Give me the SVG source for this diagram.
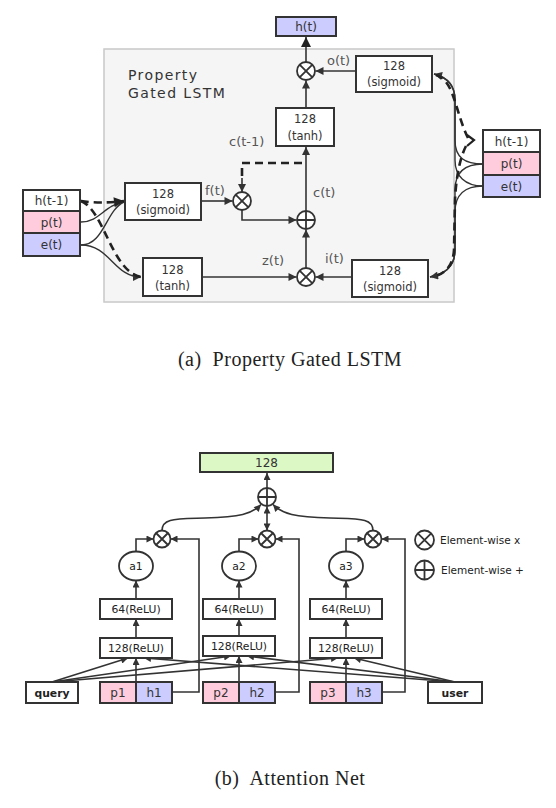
<svg xmlns="http://www.w3.org/2000/svg" width="556" height="808" viewBox="0 0 556 808">
<defs>
<style>
.box{fill:#fff;stroke:#333;stroke-width:2}
.ln{fill:none;stroke:#333;stroke-width:1.6}
.thin{fill:none;stroke:#333;stroke-width:1.4}
.dash{fill:none;stroke:#222;stroke-width:2.6;stroke-dasharray:8 5}
.op{fill:#fff;stroke:#333;stroke-width:1.8}
.opl{fill:none;stroke:#333;stroke-width:1.8}
.pink{fill:#ffccdd;stroke:#333;stroke-width:2}
.blue{fill:#ccccff;stroke:#333;stroke-width:2}
.t{font-family:"DejaVu Sans",sans-serif;fill:#333;text-anchor:middle;font-size:11.5px}
.lab{font-family:"DejaVu Sans",sans-serif;fill:#555;font-size:13px}
.st{font-family:"DejaVu Sans",sans-serif;fill:#333;text-anchor:middle;font-size:12px}
.bt{font-family:"DejaVu Sans",sans-serif;fill:#222;text-anchor:middle;font-size:10.8px}
.cap{font-family:"Liberation Serif",serif;fill:#222;text-anchor:middle;font-size:20px;letter-spacing:0.5px}
</style>
<marker id="ah" viewBox="0 0 10 10" refX="10" refY="5" markerWidth="10" markerHeight="8" markerUnits="userSpaceOnUse" orient="auto-start-reverse"><path d="M0,0L10,5L0,10z" fill="#333"/></marker>
<marker id="ahb" viewBox="0 0 10 10" refX="10" refY="5" markerWidth="12" markerHeight="10" markerUnits="userSpaceOnUse" orient="auto"><path d="M0,0L10,5L0,10z" fill="#222"/></marker>
<marker id="as" viewBox="0 0 10 10" refX="10" refY="5" markerWidth="9" markerHeight="7" markerUnits="userSpaceOnUse" orient="auto-start-reverse"><path d="M0,0L10,5L0,10z" fill="#333"/></marker>
</defs>
<rect width="556" height="808" fill="#fff"/>

<!-- ===== (a) Property Gated LSTM ===== -->
<g id="lstm-frame">
<rect x="104" y="49" width="350" height="253" fill="#f5f5f5" stroke="#c8c8c8" stroke-width="1.5"/>
<text font-family="DejaVu Sans, sans-serif" font-size="14" fill="#333" letter-spacing="1.4"><tspan x="128" y="80">Property</tspan><tspan x="128" y="98">Gated LSTM</tspan></text>
</g>

<g id="connectors-a">
<path class="ln" d="M306,62 V37" stroke-width="3" marker-end="url(#ahb)"/>
<path class="ln" d="M356,71 H315.5" marker-end="url(#ah)"/>
<path class="ln" d="M306,108 V80.5" marker-end="url(#ah)"/>
<path class="ln" d="M306,211 V147" marker-end="url(#ah)"/>
<path class="ln" d="M306,268 V229.5" marker-end="url(#ah)"/>
<path class="ln" d="M352,277 H315.5" marker-end="url(#ah)"/>
<path class="ln" d="M202,277 H296.5" marker-end="url(#ah)"/>
<path class="ln" d="M201,201 H232.5" marker-end="url(#ah)"/>
<path class="ln" d="M242,210 V220 H296.5" marker-end="url(#ah)"/>
<path class="dash" d="M302,163 H242 V180" stroke-width="2"/>
<path class="ln" d="M242,178 V192" marker-end="url(#ah)"/>
<!-- left inputs -->
<path class="thin" d="M81,222 C100,222 104,205 124,202"/>
<path class="thin" d="M81,245 C104,245 106,210 124,202"/>
<path class="thin" d="M81,245 C110,245 114,277 141,277" marker-end="url(#ah)"/>
<path class="dash" d="M81,201 Q100,204 124,201" marker-end="url(#ahb)"/>
<path class="dash" d="M81,201 C104,210 112,272 141,277"/>
<!-- right inputs -->
<path class="thin" d="M483,164 C465,164 455,158 455,140 L455,100 C455,85 446,77 434,74"/>
<path class="thin" d="M483,186 C465,186 455,176 455,160 L455,100 C455,85 446,77 434,74" marker-end="url(#ah)"/>
<path class="thin" d="M483,164 C465,164 455,172 455,190 L455,250 C455,265 446,274 430,277"/>
<path class="thin" d="M483,186 C465,186 455,195 455,212 L455,250 C455,265 446,274 430,277" marker-end="url(#ah)"/>
<path class="dash" d="M468,138 C461,124 457,106 452,93 C448,83 443,77 436,75"/>
<path class="dash" d="M466,146 C459,160 456,180 455,200 L454,250 C453,265 446,274 432,277"/>
<polyline points="467,135 474,140 467,146" fill="none" stroke="#222" stroke-width="2.2"/>
</g>

<g id="node-ht">
<rect x="276" y="17" width="60" height="19" class="blue"/>
<text class="st" x="306" y="31">h(t)</text>
</g>
<g id="node-mult-o">
<circle cx="306" cy="71" r="9" class="op"/>
<path class="opl" d="M299.6,64.6 L312.4,77.4 M312.4,64.6 L299.6,77.4"/>
</g>
<g id="node-sig-o">
<rect x="356" y="56" width="76" height="36" class="box"/>
<text class="t" x="394" y="70">128</text>
<text class="t" x="394" y="86">(sigmoid)</text>
</g>
<g id="node-tanh-c">
<rect x="276" y="108" width="58" height="38" class="box"/>
<text class="t" x="305" y="123">128</text>
<text class="t" x="305" y="140">(tanh)</text>
</g>
<g id="node-sig-f">
<rect x="125" y="183" width="76" height="37" class="box"/>
<text class="t" x="163" y="198">128</text>
<text class="t" x="163" y="214">(sigmoid)</text>
</g>
<g id="node-mult-f">
<circle cx="242" cy="201" r="9" class="op"/>
<path class="opl" d="M235.6,194.6 L248.4,207.4 M248.4,194.6 L235.6,207.4"/>
</g>
<g id="node-plus-c">
<circle cx="306" cy="220" r="9" class="op"/>
<path class="opl" d="M297,220 H315 M306,211 V229"/>
</g>
<g id="node-mult-i">
<circle cx="306" cy="277" r="9" class="op"/>
<path class="opl" d="M299.6,270.6 L312.4,283.4 M312.4,270.6 L299.6,283.4"/>
</g>
<g id="node-tanh-z">
<rect x="143" y="258" width="59" height="38" class="box"/>
<text class="t" x="172.5" y="274">128</text>
<text class="t" x="172.5" y="290">(tanh)</text>
</g>
<g id="node-sig-i">
<rect x="352" y="260" width="76" height="37" class="box"/>
<text class="t" x="390" y="275">128</text>
<text class="t" x="390" y="291">(sigmoid)</text>
</g>
<g id="labels-a">
<text class="lab" x="327" y="65">o(t)</text>
<text class="lab" x="229" y="146">c(t-1)</text>
<text class="lab" x="205" y="195">f(t)</text>
<text class="lab" x="313" y="197">c(t)</text>
<text class="lab" x="262" y="265">z(t)</text>
<text class="lab" x="325" y="263">i(t)</text>
</g>
<g id="node-input-left">
<rect x="23" y="190" width="57" height="21" class="box"/>
<rect x="23" y="211" width="57" height="22" class="pink"/>
<rect x="23" y="233" width="57" height="23" class="blue"/>
<text class="st" x="51.5" y="205">h(t-1)</text>
<text class="st" x="51.5" y="226.5">p(t)</text>
<text class="st" x="51.5" y="249">e(t)</text>
</g>
<g id="node-input-right">
<rect x="483" y="130" width="57" height="22" class="box"/>
<rect x="483" y="152" width="57" height="23" class="pink"/>
<rect x="483" y="175" width="57" height="22" class="blue"/>
<text class="st" x="511.5" y="145.5">h(t-1)</text>
<text class="st" x="511.5" y="168">p(t)</text>
<text class="st" x="511.5" y="190.5">e(t)</text>
</g>
<text class="cap" x="290" y="366">(a)&#160; Property Gated LSTM</text>

<!-- ===== (b) Attention Net ===== -->
<g id="connectors-b">
<path class="ln" d="M267,488 V473" marker-end="url(#as)"/>
<path class="ln" d="M267,530.5 V506.5" marker-start="url(#as)" marker-end="url(#as)"/>
<path class="ln" d="M162,530.5 C162,518 175,519 205,518 C240,517 252,514 261,504.5" marker-end="url(#as)"/>
<path class="ln" d="M373,530.5 C373,518 360,519 330,518 C295,517 282,514 273,504.5" marker-end="url(#as)"/>
<path class="ln" d="M136,551.5 V539 H153.5" marker-end="url(#as)"/>
<path class="ln" d="M239,551.5 V539 H258.5" marker-end="url(#as)"/>
<path class="ln" d="M346,551.5 V539 H364.5" marker-end="url(#as)"/>
<path class="ln" d="M172,692 H199 V539 H170.5" marker-end="url(#as)"/>
<path class="ln" d="M275,692 H299 V539 H275.5" marker-end="url(#as)"/>
<path class="ln" d="M382,692 H405 V539 H381.5" marker-end="url(#as)"/>
<path class="ln" d="M136,599 V580.5" marker-end="url(#as)"/>
<path class="ln" d="M239,599 V580.5" marker-end="url(#as)"/>
<path class="ln" d="M346,599 V580.5" marker-end="url(#as)"/>
<path class="ln" d="M136,638 V619" marker-end="url(#as)"/>
<path class="ln" d="M239,636 V619" marker-end="url(#as)"/>
<path class="ln" d="M346,638 V619" marker-end="url(#as)"/>
<path class="ln" d="M136,682 V658" marker-end="url(#as)"/>
<path class="ln" d="M239,682 V656" marker-end="url(#as)"/>
<path class="ln" d="M346,682 V658" marker-end="url(#as)"/>
<path class="ln" d="M52,682 L128,658" marker-end="url(#as)"/>
<path class="ln" d="M52,682 L231,656" marker-end="url(#as)"/>
<path class="ln" d="M52,682 L338,658" marker-end="url(#as)"/>
<path class="ln" d="M455,682 L144,658" marker-end="url(#as)"/>
<path class="ln" d="M455,682 L247,656" marker-end="url(#as)"/>
<path class="ln" d="M455,682 L354,658" marker-end="url(#as)"/>
</g>

<g id="node-out">
<rect x="200" y="453" width="133" height="19" fill="#dbf8c5" stroke="#333" stroke-width="2"/>
<text class="st" x="266.5" y="467">128</text>
</g>
<g id="node-plus">
<circle cx="267" cy="497" r="9" class="op"/>
<path class="opl" d="M258,497 H276 M267,488 V506"/>
</g>
<g id="node-mult1">
<circle cx="162" cy="539" r="8.5" class="op"/>
<path class="opl" d="M156,533 L168,545 M168,533 L156,545"/>
</g>
<g id="node-mult2">
<circle cx="267" cy="539" r="8.5" class="op"/>
<path class="opl" d="M261,533 L273,545 M273,533 L261,545"/>
</g>
<g id="node-mult3">
<circle cx="373" cy="539" r="8.5" class="op"/>
<path class="opl" d="M367,533 L379,545 M379,533 L367,545"/>
</g>
<g id="node-a1">
<ellipse cx="136" cy="566" rx="17" ry="14.5" class="op"/>
<text class="bt" x="136" y="570">a1</text>
</g>
<g id="node-a2">
<ellipse cx="239" cy="566" rx="17" ry="14.5" class="op"/>
<text class="bt" x="239" y="570">a2</text>
</g>
<g id="node-a3">
<ellipse cx="346" cy="566" rx="17" ry="14.5" class="op"/>
<text class="bt" x="346" y="570">a3</text>
</g>
<g id="node-fc64-1"><rect x="100" y="599" width="72" height="20" class="box"/><text class="bt" x="136" y="613">64(ReLU)</text></g>
<g id="node-fc64-2"><rect x="203" y="599" width="72" height="20" class="box"/><text class="bt" x="239" y="613">64(ReLU)</text></g>
<g id="node-fc64-3"><rect x="310" y="599" width="72" height="20" class="box"/><text class="bt" x="346" y="613">64(ReLU)</text></g>
<g id="node-fc128-1"><rect x="100" y="638" width="72" height="20" class="box"/><text class="bt" x="136" y="652">128(ReLU)</text></g>
<g id="node-fc128-2"><rect x="203" y="636" width="72" height="20" class="box"/><text class="bt" x="239" y="650">128(ReLU)</text></g>
<g id="node-fc128-3"><rect x="310" y="638" width="72" height="20" class="box"/><text class="bt" x="346" y="652">128(ReLU)</text></g>
<g id="node-query"><rect x="26" y="682" width="52" height="21" class="box"/><text class="bt" x="52" y="696.5" font-weight="bold" font-size="10">query</text></g>
<g id="node-ph1">
<rect x="100" y="682" width="36" height="21" class="pink"/><rect x="136" y="682" width="36" height="21" class="blue"/>
<text class="st" x="118" y="697">p1</text><text class="st" x="154" y="697">h1</text>
</g>
<g id="node-ph2">
<rect x="203" y="682" width="36" height="21" class="pink"/><rect x="239" y="682" width="36" height="21" class="blue"/>
<text class="st" x="221" y="697">p2</text><text class="st" x="257" y="697">h2</text>
</g>
<g id="node-ph3">
<rect x="310" y="682" width="36" height="21" class="pink"/><rect x="346" y="682" width="36" height="21" class="blue"/>
<text class="st" x="328" y="697">p3</text><text class="st" x="364" y="697">h3</text>
</g>
<g id="node-user"><rect x="428" y="682" width="54" height="21" class="box"/><text class="bt" x="455" y="696.5" font-weight="bold" font-size="10">user</text></g>
<g id="legend">
<circle cx="424.5" cy="540" r="9.5" class="op"/>
<path class="opl" d="M417.8,533.3 L431.2,546.7 M431.2,533.3 L417.8,546.7"/>
<circle cx="424.5" cy="570" r="9.5" class="op"/>
<path class="opl" d="M415,570 H434 M424.5,560.5 V579.5"/>
<text font-family="DejaVu Sans, sans-serif" font-size="10.5" fill="#222" x="440" y="544">Element-wise x</text>
<text font-family="DejaVu Sans, sans-serif" font-size="10.5" fill="#222" x="441" y="574">Element-wise +</text>
</g>
<text class="cap" x="290" y="785">(b)&#160; Attention Net</text>
</svg>
